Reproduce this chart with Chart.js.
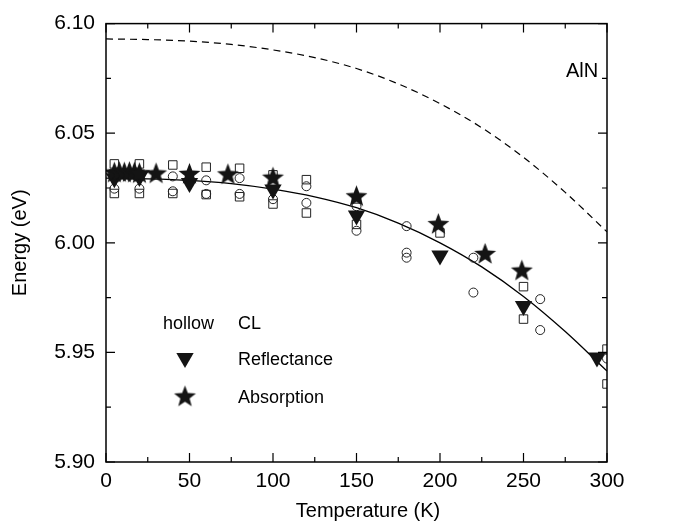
<!DOCTYPE html>
<html>
<head>
<meta charset="utf-8">
<script src="https://cdn.jsdelivr.net/npm/chart.js@4"></script>
<style>
  html, body { margin: 0; padding: 0; background: #fff; }
</style>
</head>
<body>
<canvas id="chart" width="674" height="524"></canvas>
<script>
// axis ticks
const xTicks = [0, 50, 100, 150, 200, 250, 300];
const xMinorTicks = [25, 75, 125, 175, 225, 275];
const yTicks = [5.90, 5.95, 6.00, 6.05, 6.10];
const yMinorTicks = [5.925, 5.975, 6.025, 6.075];

// CL, hollow squares
const clSquareT = [5, 5, 20, 20, 40, 40, 60, 60, 80, 80, 100, 100, 120, 120, 150, 150, 200, 250, 250, 300, 300];
const clSquareE = [6.036, 6.0225, 6.036, 6.0225, 6.0355, 6.0225, 6.0345, 6.022, 6.034, 6.021, 6.031, 6.0177,
                   6.0288, 6.0136, 6.020, 6.0084, 6.0045, 5.980, 5.9652, 5.9515, 5.9356];

// CL, hollow circles
const clCircleT = [5, 20, 40, 40, 60, 60, 80, 80, 100, 100, 120, 120, 150, 150, 180, 180, 180, 220, 220, 260, 260, 300];
const clCircleE = [6.0247, 6.0247, 6.0303, 6.0235, 6.0285, 6.0223, 6.0295, 6.0223, 6.0257, 6.0199, 6.0258, 6.0182,
                   6.0167, 6.0055, 6.0076, 5.9955, 5.9932, 5.9932, 5.9773, 5.9743, 5.9602, 5.9472];

// Reflectance
const reflT = [5, 20, 50, 100, 150, 200, 250, 294];
const reflE = [6.0295, 6.030, 6.0273, 6.0243, 6.0125, 5.9942, 5.9712, 5.9477];

// Absorption
const absT = [5, 8, 11, 14, 17, 20, 30, 50, 73, 100, 150, 199, 227, 249];
const absE = [6.0318, 6.032, 6.0318, 6.032, 6.0318, 6.0315, 6.0314, 6.0312, 6.031, 6.0295, 6.021, 6.0083, 5.9947, 5.9871];

// fit (solid) and AlN reference curve (dashed)
const curveT = [0, 25, 50, 75, 100, 125, 150, 175, 200, 225, 250, 275, 300];
const fitE = [6.0295, 6.0292, 6.0285, 6.027, 6.0245, 6.021, 6.016, 6.009, 6.000, 5.989, 5.9755, 5.9595, 5.9415];
const dashE = [6.093, 6.0927, 6.092, 6.0905, 6.088, 6.0845, 6.0795, 6.0725, 6.0635, 6.0525, 6.039, 6.023, 6.005];

const pts = (xs, ys) => xs.map((x, i) => ({ x, y: ys[i] }));

// filled five-point star as a point style
function makeStar(R, ratio, color) {
  const size = Math.ceil(2 * R + 2);
  const c = document.createElement('canvas');
  c.width = size;
  c.height = size;
  const g = c.getContext('2d');
  g.fillStyle = color;
  g.beginPath();
  for (let i = 0; i < 10; i++) {
    const rr = i % 2 === 0 ? R : R * ratio;
    const a = -Math.PI / 2 + i * Math.PI / 5;
    const px = size / 2 + rr * Math.cos(a);
    const py = size / 2 + rr * Math.sin(a);
    if (i === 0) g.moveTo(px, py); else g.lineTo(px, py);
  }
  g.closePath();
  g.fill();
  return c;
}
const starImg = makeStar(11.5, 0.42, '#141414');

const FONT = "'Liberation Sans', Arial, sans-serif";

// frame + inward ticks on all four sides
const frameTicks = {
  id: 'frameTicks',
  afterDatasetsDraw(chart) {
    const { ctx, chartArea: a, scales: { x, y } } = chart;
    ctx.save();
    ctx.strokeStyle = '#000';
    ctx.lineWidth = 1.5;
    ctx.strokeRect(a.left, a.top, a.right - a.left, a.bottom - a.top);
    ctx.lineWidth = 1.2;
    const tickX = (v, len) => {
      const px = x.getPixelForValue(v);
      ctx.beginPath();
      ctx.moveTo(px, a.bottom); ctx.lineTo(px, a.bottom - len);
      ctx.moveTo(px, a.top); ctx.lineTo(px, a.top + len);
      ctx.stroke();
    };
    const tickY = (v, len) => {
      const py = y.getPixelForValue(v);
      ctx.beginPath();
      ctx.moveTo(a.left, py); ctx.lineTo(a.left + len, py);
      ctx.moveTo(a.right, py); ctx.lineTo(a.right - len, py);
      ctx.stroke();
    };
    xTicks.forEach(v => tickX(v, 9));
    xMinorTicks.forEach(v => tickX(v, 5));
    yTicks.forEach(v => tickY(v, 9));
    yMinorTicks.forEach(v => tickY(v, 5));
    ctx.restore();
  }
};

// in-plot legend, label and x-axis title
const notes = {
  id: 'notes',
  afterDraw(chart) {
    const { ctx } = chart;
    ctx.save();
    ctx.fillStyle = '#000';
    ctx.font = '18px ' + FONT;
    ctx.textBaseline = 'middle';
    ctx.fillText('hollow', 163, 324);
    ctx.fillText('CL', 238, 324);
    ctx.fillText('Reflectance', 238, 360);
    ctx.fillText('Absorption', 238, 398);
    ctx.font = '20px ' + FONT;
    ctx.fillText('AlN', 566, 71);
    ctx.textAlign = 'center';
    ctx.fillText('Temperature (K)', 368, 511);
    ctx.fillStyle = '#141414';
    Chart.helpers.drawPoint(ctx, { pointStyle: 'triangle', rotation: 180, radius: 10, borderWidth: 0 }, 185, 358);
    Chart.helpers.drawPoint(ctx, { pointStyle: starImg, radius: 10, borderWidth: 0 }, 185, 397);
    ctx.restore();
  }
};

new Chart(document.getElementById('chart'), {
  type: 'scatter',
  data: {
    datasets: [
      {
        label: 'Absorption',
        data: pts(absT, absE),
        pointStyle: starImg,
        pointRadius: 11,
        backgroundColor: '#141414',
        borderWidth: 0,
        order: 1
      },
      {
        label: 'Reflectance',
        data: pts(reflT, reflE),
        pointStyle: 'triangle',
        rotation: 180,
        pointRadius: 10,
        backgroundColor: '#141414',
        borderColor: '#141414',
        borderWidth: 0,
        order: 2
      },
      {
        label: 'CL circles',
        data: pts(clCircleT, clCircleE),
        pointStyle: 'circle',
        pointRadius: 4.5,
        backgroundColor: 'rgba(255,255,255,0)',
        borderColor: '#222',
        borderWidth: 1,
        clip: 0,
        order: 3
      },
      {
        label: 'CL squares',
        data: pts(clSquareT, clSquareE),
        pointStyle: 'rect',
        pointRadius: 6,
        backgroundColor: 'rgba(255,255,255,0)',
        borderColor: '#222',
        borderWidth: 1,
        clip: 0,
        order: 4
      },
      {
        label: 'fit',
        data: pts(curveT, fitE),
        showLine: true,
        pointRadius: 0,
        borderColor: '#000',
        borderWidth: 1.3,
        cubicInterpolationMode: 'monotone',
        order: 5
      },
      {
        label: 'AlN',
        data: pts(curveT, dashE),
        showLine: true,
        pointRadius: 0,
        borderColor: '#000',
        borderWidth: 1.2,
        borderDash: [7, 5],
        cubicInterpolationMode: 'monotone',
        order: 6
      }
    ]
  },
  options: {
    responsive: false,
    animation: false,
    events: [],
    layout: { padding: { top: 20, right: 67, bottom: 0, left: 0 } },
    plugins: { legend: { display: false }, tooltip: { enabled: false } },
    scales: {
      x: {
        type: 'linear',
        min: 0,
        max: 300,
        afterBuildTicks: s => { s.ticks = xTicks.map(v => ({ value: v })); },
        afterFit: s => { s.height = 62; },
        grid: { display: false, drawTicks: false },
        border: { display: false },
        ticks: { color: '#000', padding: 7, font: { family: FONT, size: 21 } },
        title: { display: false }
      },
      y: {
        type: 'linear',
        min: 5.90,
        max: 6.10,
        afterBuildTicks: s => { s.ticks = yTicks.map(v => ({ value: v })); },
        afterFit: s => { s.width = 106; },
        grid: { display: false, drawTicks: false },
        border: { display: false },
        ticks: { color: '#000', padding: 11, font: { family: FONT, size: 21 }, callback: v => v.toFixed(2) },
        title: { display: true, text: 'Energy (eV)', color: '#000', padding: { top: 8, bottom: 0 }, font: { family: FONT, size: 20 } }
      }
    }
  },
  plugins: [frameTicks, notes]
});
</script>
</body>
</html>
